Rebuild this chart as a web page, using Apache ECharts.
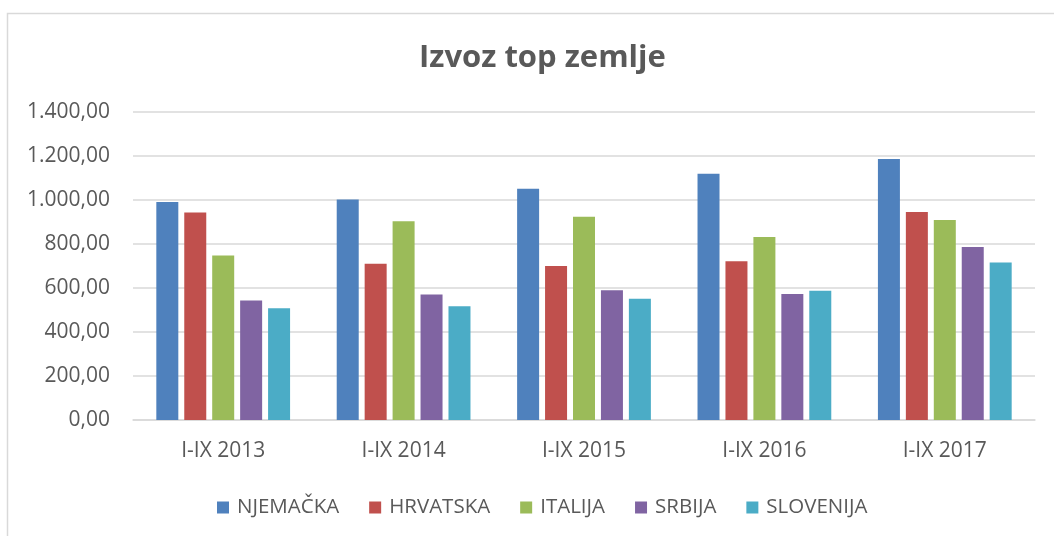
<!DOCTYPE html>
<html><head><meta charset="utf-8">
<script src="https://cdn.jsdelivr.net/npm/echarts@6/dist/echarts.min.js"></script>
<style>html,body{margin:0;padding:0;background:#fff}#c{width:1054px;height:536px}</style>
</head><body><div id="c"></div>
<script>
const categories = ['I-IX 2013','I-IX 2014','I-IX 2015','I-IX 2016','I-IX 2017'];
const njemacka  = [991, 1002, 1051, 1119, 1186];
const hrvatska  = [943, 710, 700, 722, 946];
const italija   = [748, 903, 924, 832, 909];
const srbija    = [543, 571, 590, 573, 786];
const slovenija = [508, 517, 551, 587, 716];
const seriesNames = ['NJEMAČKA','HRVATSKA','ITALIJA','SRBIJA','SLOVENIJA'];
const colors = ['#4F81BD','#C0504D','#9BBB59','#8064A2','#4BACC6'];
const values = [njemacka, hrvatska, italija, srbija, slovenija];

function fmt(v){
  const s = Math.round(v).toString().replace(/\B(?=(\d{3})+(?!\d))/g,'.');
  return s + ',00';
}
const font = 'Open Sans, Lato, sans-serif';
const chart = echarts.init(document.getElementById('c'), null, {renderer:'canvas'});
chart.setOption({
  animation:false,
  color: colors,
  title:{text:'Izvoz top zemlje', left:414, top:38,
    textStyle:{fontFamily:font, fontSize:31, fontWeight:'bold', color:'#595959'}},
  graphic:[{type:'rect', shape:{x:7.5,y:13.5,width:1060,height:540}, style:{fill:'none', stroke:'#d9d9d9', lineWidth:1.5}, silent:true}],
  grid:{left:133, right:19, top:112, bottom:116, containLabel:false},
  legend:{top:492, left:212, itemWidth:12, itemHeight:12, itemGap:30, icon:'rect',
    textStyle:{fontFamily:font, fontSize:20.5, color:'#595959', padding:[0,0,0,3]}, data:seriesNames},
  xAxis:{type:'category', data:categories,
    axisLine:{lineStyle:{color:'#d9d9d9', width:1.5}}, axisTick:{show:false},
    axisLabel:{fontFamily:font, fontSize:21, color:'#595959', margin:21}},
  yAxis:{type:'value', min:0, max:1400, interval:200,
    axisLine:{show:false}, axisTick:{show:false},
    splitLine:{lineStyle:{color:'#d9d9d9', width:1.5}},
    axisLabel:{fontFamily:font, fontSize:21, color:'#595959', margin:23, formatter:fmt}},
  series: seriesNames.map((n,i)=>({name:n, type:'bar', data:values[i], barWidth:22, barGap:'27%',
    itemStyle:{color:colors[i]}}))
});
</script></body></html>
